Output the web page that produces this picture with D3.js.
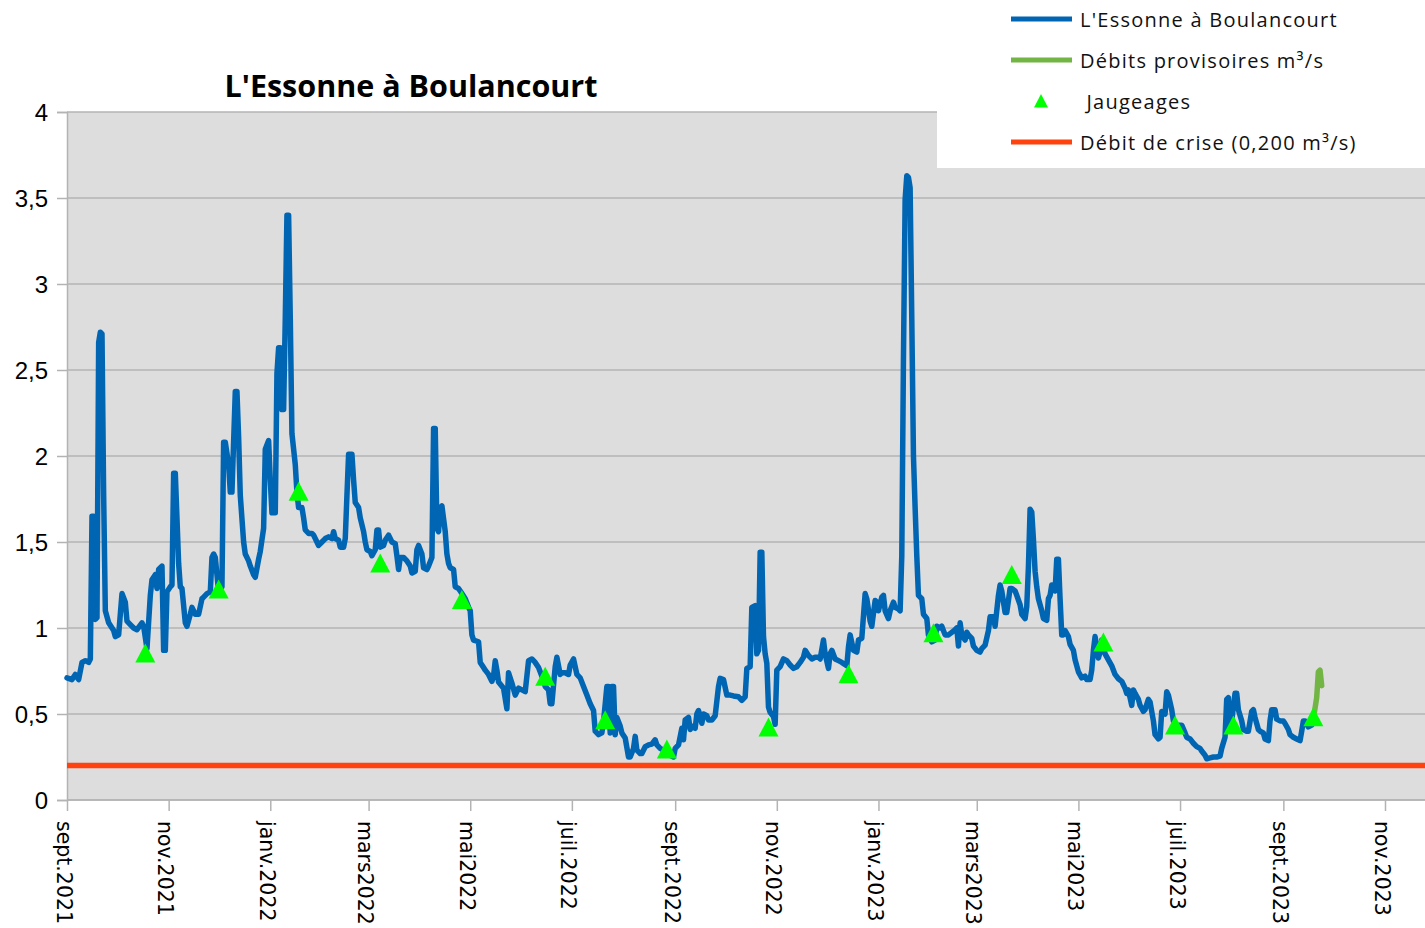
<!DOCTYPE html>
<html>
<head>
<meta charset="utf-8">
<script src="https://cdn.jsdelivr.net/npm/d3@7"></script>
<style>
body{margin:0;background:#fff;}
</style>
</head>
<body>
<script>
var width = 1425;
var height = 928;

// débits journaliers validés (m3/s)
var debits = [
["2021-09-01",0.71],["2021-09-04",0.70],["2021-09-06",0.73],["2021-09-08",0.70],["2021-09-10",0.80],
["2021-09-12",0.81],["2021-09-14",0.80],["2021-09-15",0.82],["2021-09-16",1.65],["2021-09-17",1.65],
["2021-09-18",1.05],["2021-09-19",1.06],["2021-09-20",2.66],["2021-09-21",2.72],["2021-09-22",2.71],
["2021-09-23",1.77],["2021-09-24",1.10],["2021-09-26",1.03],["2021-09-29",0.985],["2021-09-30",0.95],
["2021-10-02",0.96],["2021-10-03",1.08],["2021-10-04",1.20],["2021-10-06",1.15],["2021-10-07",1.04],
["2021-10-09",1.02],["2021-10-11",1.00],["2021-10-13",0.99],["2021-10-16",1.03],["2021-10-17",1.01],
["2021-10-19",0.88],["2021-10-21",1.19],["2021-10-22",1.28],["2021-10-24",1.31],["2021-10-25",1.23],
["2021-10-26",1.34],["2021-10-28",1.36],["2021-10-29",0.87],["2021-10-30",0.87],["2021-10-31",1.21],
["2021-11-02",1.24],["2021-11-03",1.25],["2021-11-04",1.90],["2021-11-05",1.90],["2021-11-07",1.375],
["2021-11-08",1.24],["2021-11-09",1.23],["2021-11-11",1.03],["2021-11-12",1.01],["2021-11-14",1.08],
["2021-11-15",1.12],["2021-11-17",1.08],["2021-11-19",1.08],["2021-11-21",1.17],["2021-11-22",1.18],
["2021-11-24",1.20],["2021-11-26",1.21],["2021-11-27",1.41],["2021-11-28",1.43],["2021-11-29",1.41],
["2021-12-01",1.21],["2021-12-03",1.24],["2021-12-04",2.08],["2021-12-05",2.08],["2021-12-07",1.95],
["2021-12-08",1.79],["2021-12-09",1.79],["2021-12-11",2.375],["2021-12-12",2.375],["2021-12-13",2.11],
["2021-12-14",1.77],["2021-12-16",1.50],["2021-12-17",1.43],["2021-12-19",1.39],["2021-12-20",1.36],
["2021-12-22",1.31],["2021-12-23",1.295],["2021-12-25",1.40],["2021-12-26",1.445],["2021-12-28",1.58],
["2021-12-29",2.04],["2021-12-31",2.09],["2022-01-01",1.86],["2022-01-02",1.67],["2022-01-04",1.67],
["2022-01-05",2.48],["2022-01-06",2.63],["2022-01-07",2.63],["2022-01-08",2.27],["2022-01-09",2.27],
["2022-01-10",2.80],["2022-01-11",3.40],["2022-01-12",3.40],["2022-01-13",2.80],["2022-01-14",2.13],
["2022-01-16",1.95],["2022-01-17",1.79],["2022-01-18",1.70],["2022-01-20",1.70],["2022-01-21",1.64],
["2022-01-22",1.57],["2022-01-24",1.55],["2022-01-26",1.55],["2022-01-27",1.54],["2022-01-29",1.50],
["2022-01-30",1.48],["2022-02-01",1.50],["2022-02-03",1.52],["2022-02-05",1.53],["2022-02-07",1.52],
["2022-02-08",1.56],["2022-02-09",1.52],["2022-02-11",1.51],["2022-02-12",1.47],["2022-02-14",1.47],
["2022-02-15",1.52],["2022-02-16",1.77],["2022-02-17",2.01],["2022-02-19",2.01],["2022-02-20",1.86],
["2022-02-21",1.73],["2022-02-23",1.70],["2022-02-24",1.64],["2022-02-26",1.56],["2022-02-27",1.50],
["2022-02-28",1.455],["2022-03-02",1.445],["2022-03-03",1.42],["2022-03-05",1.455],["2022-03-06",1.57],
["2022-03-07",1.57],["2022-03-08",1.47],["2022-03-10",1.48],["2022-03-11",1.51],["2022-03-13",1.54],
["2022-03-15",1.50],["2022-03-17",1.49],["2022-03-18",1.42],["2022-03-19",1.34],["2022-03-20",1.41],
["2022-03-22",1.41],["2022-03-24",1.39],["2022-03-26",1.36],["2022-03-27",1.32],["2022-03-29",1.33],
["2022-03-30",1.455],["2022-03-31",1.48],["2022-04-02",1.43],["2022-04-03",1.35],["2022-04-05",1.34],
["2022-04-06",1.36],["2022-04-08",1.41],["2022-04-09",2.16],["2022-04-10",2.16],["2022-04-11",1.58],
["2022-04-12",1.56],["2022-04-13",1.70],["2022-04-14",1.71],["2022-04-16",1.56],["2022-04-17",1.43],
["2022-04-18",1.375],["2022-04-19",1.35],["2022-04-21",1.34],["2022-04-22",1.24],["2022-04-24",1.23],
["2022-04-26",1.20],["2022-04-28",1.17],["2022-04-30",1.12],["2022-05-01",1.10],["2022-05-02",0.96],
["2022-05-03",0.93],["2022-05-06",0.92],["2022-05-07",0.80],["2022-05-09",0.77],["2022-05-10",0.755],
["2022-05-12",0.73],["2022-05-14",0.69],["2022-05-15",0.72],["2022-05-16",0.81],["2022-05-17",0.755],
["2022-05-18",0.686],["2022-05-21",0.65],["2022-05-23",0.53],["2022-05-24",0.74],["2022-05-26",0.68],
["2022-05-28",0.61],["2022-05-30",0.65],["2022-06-01",0.64],["2022-06-03",0.63],["2022-06-05",0.81],
["2022-06-07",0.82],["2022-06-09",0.80],["2022-06-11",0.77],["2022-06-13",0.72],["2022-06-15",0.66],
["2022-06-17",0.64],["2022-06-18",0.56],["2022-06-19",0.56],["2022-06-21",0.775],["2022-06-22",0.83],
["2022-06-24",0.73],["2022-06-25",0.74],["2022-06-27",0.74],["2022-06-29",0.73],["2022-06-30",0.785],
["2022-07-02",0.82],["2022-07-04",0.73],["2022-07-06",0.71],["2022-07-08",0.66],["2022-07-10",0.61],
["2022-07-12",0.56],["2022-07-14",0.52],["2022-07-15",0.40],["2022-07-17",0.38],["2022-07-19",0.39],
["2022-07-20",0.455],["2022-07-22",0.66],["2022-07-23",0.66],["2022-07-24",0.39],["2022-07-25",0.66],
["2022-07-26",0.66],["2022-07-27",0.38],["2022-07-28",0.48],["2022-07-30",0.43],["2022-07-31",0.39],
["2022-08-02",0.36],["2022-08-04",0.25],["2022-08-05",0.25],["2022-08-07",0.30],["2022-08-08",0.37],
["2022-08-09",0.29],["2022-08-11",0.27],["2022-08-12",0.27],["2022-08-14",0.31],["2022-08-16",0.32],
["2022-08-18",0.325],["2022-08-20",0.35],["2022-08-21",0.32],["2022-08-23",0.30],["2022-08-25",0.29],
["2022-08-27",0.27],["2022-08-29",0.26],["2022-08-31",0.25],["2022-09-01",0.30],["2022-09-03",0.32],
["2022-09-05",0.417],["2022-09-06",0.35],["2022-09-07",0.465],["2022-09-09",0.48],["2022-09-10",0.41],
["2022-09-11",0.43],["2022-09-13",0.417],["2022-09-14",0.50],["2022-09-15",0.52],["2022-09-17",0.446],
["2022-09-18",0.50],["2022-09-20",0.49],["2022-09-21",0.465],["2022-09-23",0.465],["2022-09-25",0.49],
["2022-09-27",0.66],["2022-09-28",0.707],["2022-09-30",0.70],["2022-10-02",0.61],["2022-10-04",0.61],
["2022-10-06",0.605],["2022-10-09",0.60],["2022-10-11",0.58],["2022-10-13",0.60],["2022-10-14",0.765],
["2022-10-16",0.775],["2022-10-17",1.12],["2022-10-19",1.13],["2022-10-20",0.85],["2022-10-21",0.87],
["2022-10-22",1.44],["2022-10-23",1.44],["2022-10-24",0.95],["2022-10-25",0.85],["2022-10-26",0.795],
["2022-10-27",0.54],["2022-10-28",0.51],["2022-10-30",0.485],["2022-10-31",0.44],["2022-11-01",0.755],
["2022-11-03",0.775],["2022-11-05",0.82],["2022-11-07",0.81],["2022-11-09",0.785],["2022-11-11",0.765],
["2022-11-13",0.775],["2022-11-15",0.80],["2022-11-17",0.83],["2022-11-18",0.87],["2022-11-20",0.84],
["2022-11-22",0.82],["2022-11-24",0.83],["2022-11-26",0.83],["2022-11-27",0.82],["2022-11-29",0.93],
["2022-11-30",0.85],["2022-12-02",0.765],["2022-12-03",0.85],["2022-12-04",0.87],["2022-12-06",0.82],
["2022-12-08",0.81],["2022-12-10",0.80],["2022-12-13",0.78],["2022-12-14",0.89],["2022-12-15",0.96],
["2022-12-17",0.87],["2022-12-19",0.86],["2022-12-20",0.93],["2022-12-22",0.94],["2022-12-24",1.20],
["2022-12-25",1.17],["2022-12-27",1.04],["2022-12-28",1.01],["2022-12-30",1.16],["2022-12-31",1.15],
["2023-01-01",1.10],["2023-01-03",1.18],["2023-01-04",1.19],["2023-01-05",1.10],["2023-01-07",1.055],
["2023-01-08",1.10],["2023-01-10",1.15],["2023-01-11",1.12],["2023-01-13",1.11],["2023-01-14",1.10],
["2023-01-15",1.42],["2023-01-16",2.57],["2023-01-17",3.49],["2023-01-18",3.63],["2023-01-19",3.62],
["2023-01-20",3.56],["2023-01-21",2.80],["2023-01-22",2.00],["2023-01-23",1.70],["2023-01-24",1.42],
["2023-01-25",1.19],["2023-01-27",1.17],["2023-01-28",1.08],["2023-01-30",1.055],["2023-01-31",0.96],
["2023-02-02",0.92],["2023-02-04",0.93],["2023-02-05",1.01],["2023-02-07",1.00],["2023-02-08",1.01],
["2023-02-10",0.96],["2023-02-12",0.96],["2023-02-14",0.975],["2023-02-16",0.99],["2023-02-17",1.00],
["2023-02-18",0.895],["2023-02-19",1.03],["2023-02-20",0.96],["2023-02-22",0.93],["2023-02-23",0.975],
["2023-02-24",0.96],["2023-02-26",0.94],["2023-02-27",0.895],["2023-03-01",0.87],["2023-03-03",0.86],
["2023-03-04",0.88],["2023-03-06",0.90],["2023-03-08",0.985],["2023-03-09",1.065],["2023-03-11",1.065],
["2023-03-12",1.01],["2023-03-14",1.19],["2023-03-15",1.25],["2023-03-16",1.215],["2023-03-18",1.09],
["2023-03-19",1.09],["2023-03-21",1.23],["2023-03-22",1.23],["2023-03-24",1.215],["2023-03-25",1.19],
["2023-03-27",1.135],["2023-03-28",1.08],["2023-03-30",1.055],["2023-03-31",1.125],["2023-04-01",1.355],
["2023-04-02",1.69],["2023-04-03",1.675],["2023-04-04",1.515],["2023-04-05",1.33],["2023-04-06",1.24],
["2023-04-07",1.17],["2023-04-09",1.10],["2023-04-10",1.055],["2023-04-12",1.045],["2023-04-13",1.17],
["2023-04-14",1.19],["2023-04-15",1.25],["2023-04-16",1.25],["2023-04-17",1.215],["2023-04-18",1.40],
["2023-04-19",1.40],["2023-04-20",1.17],["2023-04-21",0.96],["2023-04-22",0.96],["2023-04-23",0.985],
["2023-04-25",0.95],["2023-04-26",0.905],["2023-04-28",0.87],["2023-04-29",0.815],["2023-05-01",0.745],
["2023-05-03",0.71],["2023-05-05",0.72],["2023-05-06",0.70],["2023-05-08",0.70],["2023-05-09",0.755],
["2023-05-10",0.87],["2023-05-11",0.95],["2023-05-13",0.825],["2023-05-14",0.86],["2023-05-15",0.93],
["2023-05-17",0.85],["2023-05-19",0.815],["2023-05-21",0.78],["2023-05-23",0.73],["2023-05-25",0.705],
["2023-05-27",0.69],["2023-05-29",0.65],["2023-05-30",0.62],["2023-05-31",0.64],["2023-06-02",0.55],
["2023-06-03",0.64],["2023-06-04",0.62],["2023-06-06",0.585],["2023-06-07",0.55],["2023-06-09",0.515],
["2023-06-10",0.525],["2023-06-12",0.585],["2023-06-13",0.57],["2023-06-15",0.46],["2023-06-16",0.38],
["2023-06-18",0.355],["2023-06-19",0.365],["2023-06-20",0.515],["2023-06-22",0.50],["2023-06-23",0.63],
["2023-06-24",0.61],["2023-06-26",0.525],["2023-06-27",0.46],["2023-06-29",0.435],["2023-07-01",0.435],
["2023-07-02",0.435],["2023-07-04",0.39],["2023-07-05",0.365],["2023-07-07",0.355],["2023-07-09",0.33],
["2023-07-11",0.31],["2023-07-13",0.30],["2023-07-14",0.285],["2023-07-16",0.26],["2023-07-17",0.24],
["2023-07-19",0.245],["2023-07-21",0.25],["2023-07-23",0.25],["2023-07-25",0.255],["2023-07-26",0.30],
["2023-07-28",0.365],["2023-07-29",0.585],["2023-07-30",0.595],["2023-07-31",0.41],["2023-08-01",0.46],
["2023-08-03",0.62],["2023-08-04",0.62],["2023-08-05",0.525],["2023-08-07",0.46],["2023-08-08",0.41],
["2023-08-10",0.40],["2023-08-11",0.40],["2023-08-13",0.515],["2023-08-14",0.525],["2023-08-15",0.48],
["2023-08-17",0.41],["2023-08-18",0.40],["2023-08-20",0.39],["2023-08-21",0.355],["2023-08-23",0.345],
["2023-08-24",0.46],["2023-08-25",0.525],["2023-08-27",0.525],["2023-08-28",0.47],["2023-08-30",0.46],
["2023-09-01",0.46],["2023-09-02",0.445],["2023-09-04",0.41],["2023-09-05",0.38],["2023-09-07",0.365],
["2023-09-09",0.355],["2023-09-11",0.345],["2023-09-12",0.40],["2023-09-13",0.46],["2023-09-14",0.46],
["2023-09-16",0.425],["2023-09-18",0.435],["2023-09-19",0.47]
];

// débits provisoires
var provisoires = [
["2023-09-19",0.47],["2023-09-21",0.595],["2023-09-22",0.745],["2023-09-23",0.755],["2023-09-24",0.665]
];

// jaugeages
var jaugeages = [
["2021-10-18",0.855],["2021-12-01",1.227],["2022-01-18",1.795],["2022-03-08",1.378],
["2022-04-26",1.165],["2022-06-15",0.719],["2022-07-21",0.467],["2022-08-27",0.297],
["2022-10-27",0.424],["2022-12-14",0.734],["2023-02-03",0.973],["2023-03-22",1.311],
["2023-05-16",0.919],["2023-06-28",0.436],["2023-08-02",0.436],["2023-09-19",0.484]
];

var debitCrise = 0.2;

var yTicks = [0,0.5,1,1.5,2,2.5,3,3.5,4];
var xTickDates = ["2021-09-01","2021-11-01","2022-01-01","2022-03-01","2022-05-01","2022-07-01","2022-09-01",
    "2022-11-01","2023-01-01","2023-03-01","2023-05-01","2023-07-01","2023-09-01","2023-11-01"];
var xTickLabels = ["sept.2021","nov.2021","janv.2022","mars2022","mai2022","juil.2022","sept.2022",
    "nov.2022","janv.2023","mars2023","mai2023","juil.2023","sept.2023","nov.2023"];

var legendItems = [
    {label:"L'Essonne à Boulancourt", type:"line", color:"#0065b3"},
    {label:"Débits provisoires m³/s", type:"line", color:"#72b545"},
    {label:" Jaugeages", type:"tri", color:"#00ff00"},
    {label:"Débit de crise (0,200 m³/s)", type:"line", color:"#ff420e"}
];

var parse = d3.timeParse("%Y-%m-%d");

var plot = {left:67, right:1425, top:112, bottom:800};

var svg = d3.select("body")
    .append("svg")
    .attr("width",width)
    .attr("height",height)
    .style("display","block");

var x = d3.scaleTime()
    .domain([parse("2021-09-01"), parse("2023-11-01")])
    .range([67, 1385]);

var y = d3.scaleLinear()
    .domain([0,4])
    .range([plot.bottom, plot.top]);

// fond gris
svg.append("rect")
    .attr("x",plot.left)
    .attr("y",plot.top)
    .attr("width",plot.right-plot.left)
    .attr("height",plot.bottom-plot.top)
    .attr("fill","#dddddd");

// grille
svg.append("g")
    .selectAll("line")
    .data(yTicks)
    .enter()
    .append("line")
    .attr("x1",plot.left)
    .attr("x2",plot.right)
    .attr("y1",function(d){return y(d);})
    .attr("y2",function(d){return y(d);})
    .attr("stroke","#b3b3b3")
    .attr("stroke-width",1.5);

// axe Y
var yAxis = svg.append("g")
    .attr("transform","translate("+plot.left+",0)")
    .call(d3.axisLeft(y)
        .tickValues(yTicks)
        .tickSize(10)
        .tickPadding(9)
        .tickFormat(function(d){return String(d).replace(".",",");}));
yAxis.select(".domain").attr("stroke","#b3b3b3").attr("stroke-width",1.5);
yAxis.selectAll(".tick line").attr("stroke","#b3b3b3").attr("stroke-width",1.5);
yAxis.selectAll("text")
    .attr("fill","#000")
    .attr("dy","0.36em")
    .style("font-family","'Liberation Sans', Arial, sans-serif")
    .style("font-size","24px");

// axe X
var xAxis = svg.append("g")
    .attr("transform","translate(0,"+plot.bottom+")")
    .call(d3.axisBottom(x)
        .tickValues(xTickDates.map(parse))
        .tickSize(11)
        .tickSizeOuter(0)
        .tickFormat(function(d,i){return xTickLabels[i];}));
xAxis.select(".domain")
    .attr("d","M"+plot.left+",0H"+plot.right)
    .attr("stroke","#b3b3b3").attr("stroke-width",1.5);
xAxis.selectAll(".tick line").attr("stroke","#b3b3b3").attr("stroke-width",1.5);
xAxis.selectAll("text")
    .attr("fill","#000")
    .attr("transform","rotate(90)")
    .attr("x",21)
    .attr("y",0)
    .attr("dy",11)
    .attr("text-anchor","start")
    .style("font-family","'DejaVu Sans', sans-serif")
    .style("font-size","20.5px");

// seuil de crise
svg.append("line")
    .attr("x1",plot.left)
    .attr("x2",plot.right)
    .attr("y1",y(debitCrise))
    .attr("y2",y(debitCrise))
    .attr("stroke","#ff420e")
    .attr("stroke-width",5.5);

var line = d3.line()
    .x(function(d){return x(parse(d[0]));})
    .y(function(d){return y(d[1]);});

svg.append("path")
    .datum(debits)
    .attr("d",line)
    .attr("fill","none")
    .attr("stroke","#0065b3")
    .attr("stroke-width",5.5)
    .attr("stroke-linejoin","round")
    .attr("stroke-linecap","round");

svg.append("path")
    .datum(provisoires)
    .attr("d",line)
    .attr("fill","none")
    .attr("stroke","#72b545")
    .attr("stroke-width",5.5)
    .attr("stroke-linejoin","round")
    .attr("stroke-linecap","round");

var triangle = "M0,-9.5L10,9.5L-10,9.5Z";

svg.append("g")
    .selectAll("path")
    .data(jaugeages)
    .enter()
    .append("path")
    .attr("d",triangle)
    .attr("transform",function(d){
        return "translate("+x(parse(d[0]))+","+y(d[1])+")";
    })
    .attr("fill","#00ff00");

// titre
svg.append("text")
    .attr("x",411)
    .attr("y",97)
    .attr("text-anchor","middle")
    .style("font-family","'Open Sans', sans-serif")
    .style("font-weight","bold")
    .style("font-size","30.5px")
    .text("L'Essonne à Boulancourt");

// légende
var legend = svg.append("g");
legend.append("rect")
    .attr("x",937)
    .attr("y",0)
    .attr("width",width-937)
    .attr("height",168)
    .attr("fill","#fff");

var rows = [19,60,101,142];
var lg = legend.selectAll(".item")
    .data(legendItems)
    .enter()
    .append("g")
    .attr("transform",function(d,i){return "translate(0,"+rows[i]+")";});

lg.filter(function(d){return d.type=="line";})
    .append("line")
    .attr("x1",1011)
    .attr("x2",1072)
    .attr("y1",0)
    .attr("y2",0)
    .attr("stroke",function(d){return d.color;})
    .attr("stroke-width",5);

lg.filter(function(d){return d.type=="tri";})
    .append("path")
    .attr("d","M0,-7L7,6.5L-7,6.5Z")
    .attr("transform","translate(1041,0)")
    .attr("fill",function(d){return d.color;});

lg.append("text")
    .attr("x",1080)
    .attr("y",8)
    .attr("xml:space","preserve")
    .style("white-space","pre")
    .style("font-family","'Open Sans', sans-serif")
    .style("font-size","20px")
    .style("letter-spacing","1.25px")
    .attr("fill","#111")
    .text(function(d){return d.label;});
</script>
</body>
</html>
